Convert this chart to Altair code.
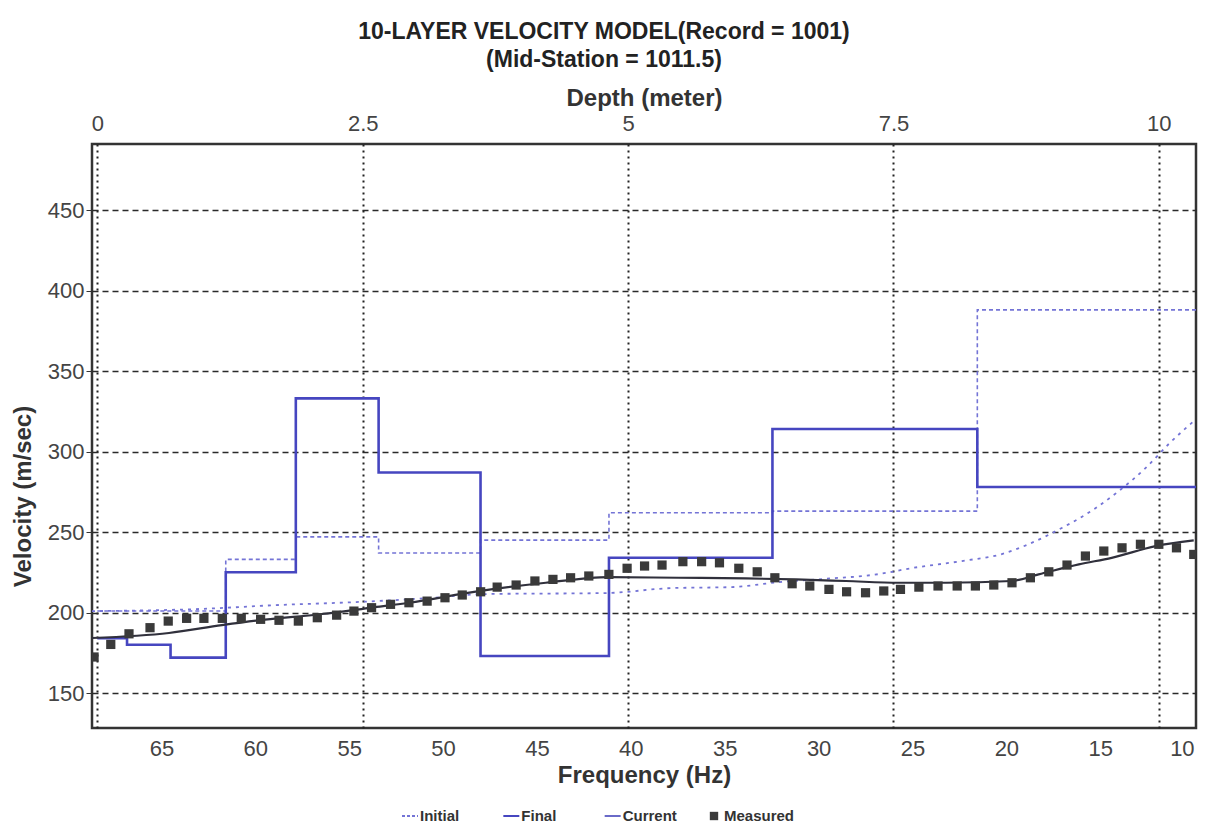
import altair as alt
import pandas as pd

# ---------------- data ----------------
# layered velocity models (top depth of each layer, metres; Vs m/s)
layer_top_depth = [0.0, 0.28, 0.69, 1.21, 1.87, 2.65, 3.61, 4.82, 6.36, 8.29]
depth_max = 10.35
initial_model_vs = [201, 201, 201, 233, 247, 237, 245, 262, 263, 388]
final_model_vs = [184, 180, 172, 225, 333, 287, 173, 234, 314, 278]

# measured dispersion curve (frequency Hz, phase velocity m/s)
meas_freq = [68.59, 67.70, 66.73, 65.61, 64.64, 63.66, 62.74, 61.76, 60.75, 59.72,
             58.74, 57.71, 56.70, 55.67, 54.75, 53.81, 52.80, 51.82, 50.85, 49.90,
             48.98, 48.00, 47.12, 46.11, 45.11, 44.15, 43.21, 42.24, 41.17, 40.20,
             39.27, 38.34, 37.23, 36.23, 35.28, 34.25, 33.27, 32.33, 31.41, 30.47,
             29.45, 28.51, 27.50, 26.53, 25.64, 24.66, 23.64, 22.62, 21.65, 20.67,
             19.70, 18.72, 17.74, 16.77, 15.79, 14.81, 13.84, 12.86, 11.88, 10.94, 10.02]
meas_vel = [172.4, 180.2, 186.8, 190.6, 194.7, 196.4, 196.4, 196.4, 196.4, 195.8,
            195.2, 194.7, 196.8, 198.4, 200.9, 203.0, 205.1, 206.1, 207.1, 209.2,
            210.9, 212.9, 215.8, 217.1, 219.6, 220.6, 221.6, 222.7, 223.7, 227.5,
            228.9, 229.5, 231.6, 231.6, 230.9, 227.5, 225.3, 221.6, 217.9, 216.5,
            214.4, 212.9, 212.3, 213.4, 214.4, 215.8, 216.5, 216.5, 216.5, 217.1,
            218.5, 221.6, 225.3, 229.5, 235.1, 238.2, 240.2, 242.4, 242.4, 240.2, 236.1]

# current (final model) dispersion curve
curr_freq = [68.7, 64.6, 61.78, 59.97, 56.45, 53.79, 51.82, 48.09, 44.53, 41.17,
             37.47, 33.88, 31.21, 28.55, 25.73, 23.23, 19.71, 18.28, 16.14, 14.39, 12.05, 10.02]
curr_vel = [184.2, 187.3, 192.2, 195.0, 199.1, 203.1, 206.1, 213.3, 218.5, 222.0,
            221.6, 221.2, 220.6, 219.6, 218.5, 218.5, 219.6, 223.7, 229.9, 234.0, 241.3, 244.8]

# initial model dispersion curve
init_freq = [68.7, 63.0, 58.74, 54.64, 50.76, 47.72, 41.33, 37.82, 34.62, 32.12, 29.83,
             26.79, 25.04, 22.37, 20.24, 18.81, 17.05, 15.24, 14.01, 12.58, 11.35, 10.02]
init_vel = [200.9, 202.2, 204.7, 206.5, 209.0, 211.5, 212.1, 215.2, 215.8, 218.9, 220.8,
            223.9, 227.6, 232.0, 236.3, 242.5, 252.5, 264.9, 275.5, 289.8, 304.7, 318.9]

freq_ticks = [65, 60, 55, 50, 45, 40, 35, 30, 25, 20, 15, 10]
depth_ticks = [0, 2.5, 5, 7.5, 10]
vel_ticks = [150, 200, 250, 300, 350, 400, 450]
legend_names = ["Initial", "Final", "Current", "Measured"]

# ---------------- styles ----------------
C_INIT = "#7474d6"
C_FINAL = "#4646c0"
C_CURR = "#30303c"
C_MEAS = "#3a3a3a"
FONT = "Liberation Sans"

# ---------------- tables ----------------
def step_table(vs):
    return pd.DataFrame({"depth": layer_top_depth + [depth_max], "vel": vs + [vs[-1]]})

init_step_df = step_table(initial_model_vs)
final_step_df = step_table(final_model_vs)
meas_df = pd.DataFrame({"freq": meas_freq, "vel": meas_vel})
curr_df = pd.DataFrame({"freq": curr_freq, "vel": curr_vel})
initc_df = pd.DataFrame({"freq": init_freq, "vel": init_vel})
leg_df = pd.DataFrame({"name": legend_names})

y_enc = alt.Y(
    "vel:Q",
    scale=alt.Scale(domain=[128.3, 491], nice=False, zero=False),
    axis=alt.Axis(values=vel_ticks, title="Velocity (m/sec)", grid=True,
                  gridDash=[6, 4], gridColor="#2a2a2a", gridWidth=1.3,
                  tickSize=6, tickColor="#333", domain=False,
                  labelFontSize=22, labelColor="#444", labelPadding=2,
                  titleFontSize=24, titleFontWeight="bold", titleColor="#333",
                  titlePadding=12, titleY=352),
)

depth_x = alt.X(
    "depth:Q",
    scale=alt.Scale(domain=[-0.05, depth_max], nice=False, zero=False),
    axis=alt.Axis(orient="top", values=depth_ticks, format=".1~f", title="Depth (meter)",
                  grid=True, gridDash=[2, 4], gridColor="#222", gridWidth=2,
                  ticks=False, domain=False, labelFontSize=22, labelColor="#444",
                  labelPadding=9, titleFontSize=24, titleFontWeight="bold",
                  titleColor="#333", titlePadding=2),
)

freq_x = alt.X(
    "freq:Q",
    scale=alt.Scale(domain=[9.9, 68.7], reverse=True, nice=False, zero=False),
    axis=alt.Axis(orient="bottom", values=freq_ticks, title="Frequency (Hz)",
                  grid=False, ticks=False, domain=False, labelFontSize=22,
                  labelColor="#444", labelPadding=10, labelFlush=5, titleFontSize=24,
                  titleFontWeight="bold", titleColor="#333", titlePadding=4),
)

init_step = alt.Chart(init_step_df).mark_line(
    interpolate="step-after", color=C_INIT, strokeWidth=1.6, strokeDash=[4, 3], clip=True
).encode(x=depth_x, y=y_enc)

final_step = alt.Chart(final_step_df).mark_line(
    interpolate="step-after", color=C_FINAL, strokeWidth=2.6, clip=True
).encode(x=depth_x, y=y_enc)

init_curve = alt.Chart(initc_df).mark_line(
    interpolate="monotone", color=C_INIT, strokeWidth=1.8, strokeDash=[3, 5], clip=True
).encode(x=freq_x, y=y_enc)

curr_curve = alt.Chart(curr_df).mark_line(
    interpolate="monotone", color=C_CURR, strokeWidth=2.2, clip=True
).encode(x=freq_x, y=y_enc)

measured = alt.Chart(meas_df).mark_square(
    size=85, color=C_MEAS, opacity=1, clip=True
).encode(x=freq_x, y=y_enc)

depth_layer = alt.layer(init_step, final_step)
freq_layer = alt.layer(init_curve, curr_curve, measured)

main = alt.layer(depth_layer, freq_layer).resolve_scale(x="independent").properties(
    width=1104,
    height=584,
    title=alt.TitleParams(
        text=["10-LAYER VELOCITY MODEL(Record = 1001)", "(Mid-Station = 1011.5)"],
        fontSize=23, fontWeight="bold", font=FONT, color="#222",
        lineHeight=28, anchor="middle", dx=-40, offset=14,
    ),
)

# ---------------- legend row ----------------
leg_x = alt.X("name:N", sort=legend_names,
              scale=alt.Scale(type="point", domain=legend_names, range=[318, 622], padding=0),
              axis=None)
leg_color = alt.Color("name:N", scale=alt.Scale(domain=legend_names,
                      range=[C_INIT, C_FINAL, "#6a6ac8", C_MEAS]), legend=None)
leg_dash = alt.StrokeDash("name:N", scale=alt.Scale(domain=legend_names,
                          range=[[3, 2], [1, 0], [1, 0], [1, 0]]), legend=None)

leg_base = alt.Chart(leg_df)
leg_lines = leg_base.transform_filter(alt.datum.name != "Measured").mark_point(
    shape="stroke", size=256, filled=False, strokeWidth=2, opacity=1
).encode(x=leg_x, color=leg_color, strokeDash=leg_dash)
leg_square = leg_base.transform_filter(alt.datum.name == "Measured").mark_square(
    size=70, color=C_MEAS, opacity=1
).encode(x=leg_x)
leg_text = leg_base.mark_text(
    align="left", baseline="middle", dx=10, fontSize=15, fontWeight="bold",
    font=FONT, color="#333"
).encode(x=leg_x, text="name:N")

legend_row = alt.layer(leg_lines, leg_square, leg_text).properties(
    width=1104, height=14, view=alt.ViewBackground(stroke="transparent")
)

chart = alt.vconcat(main, legend_row, spacing=18).properties(
    padding={"left": 2, "right": 2, "top": 11, "bottom": 0}
).configure(font=FONT).configure_view(
    stroke="#333", strokeWidth=2.5
)

chart.save("out.html", embed_options={"renderer": "svg", "actions": False})
